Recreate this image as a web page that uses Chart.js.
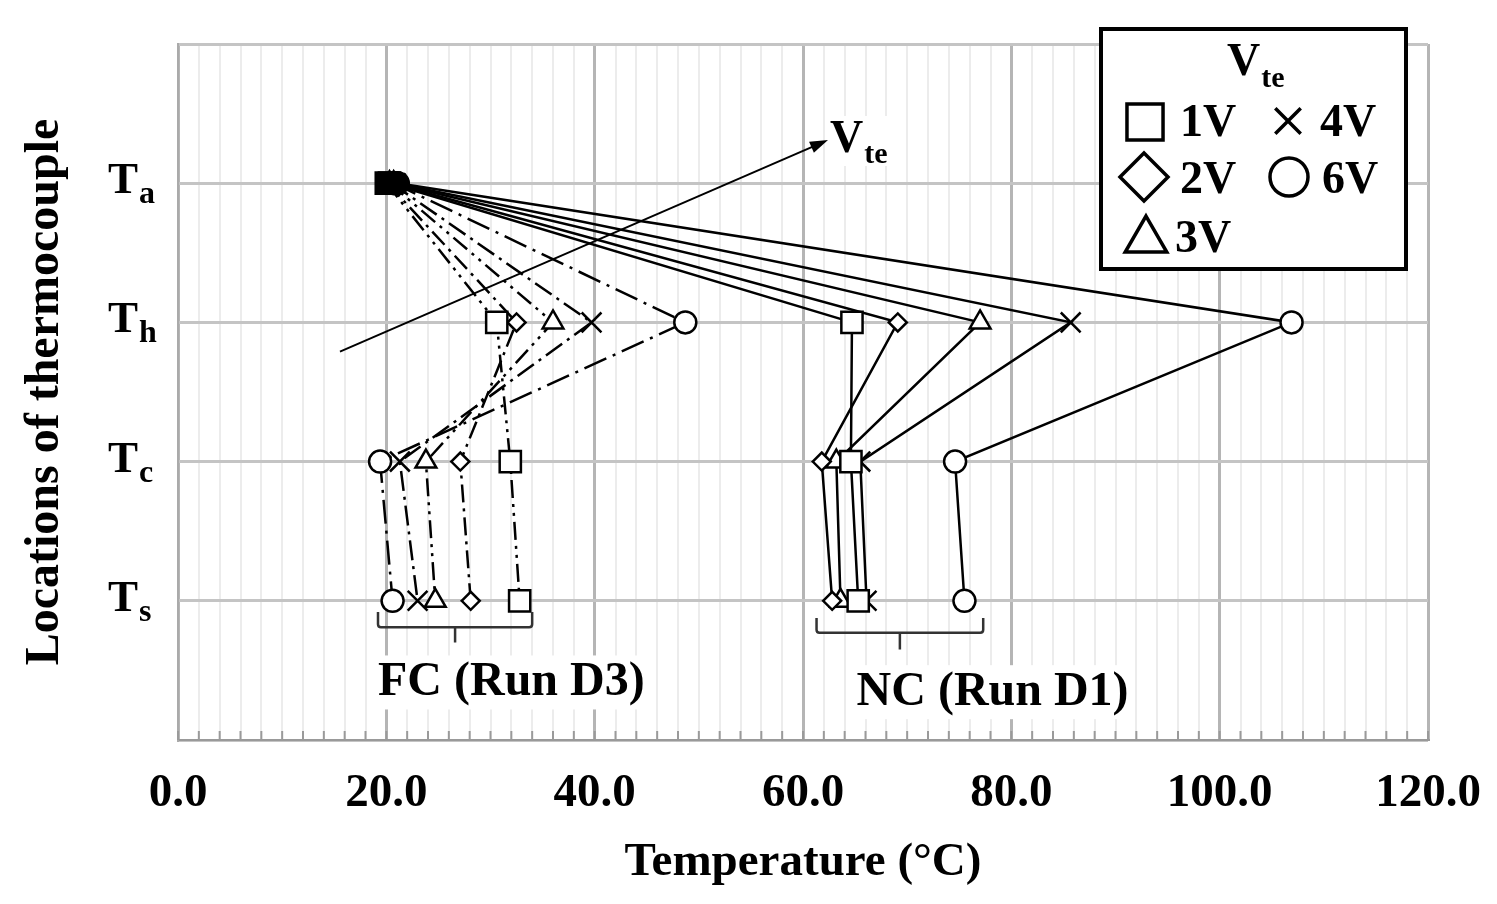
<!DOCTYPE html>
<html>
<head>
<meta charset="utf-8">
<script src="https://cdn.jsdelivr.net/npm/chart.js@4/dist/chart.umd.min.js"></script>
<style>
  html, body { margin: 0; padding: 0; background: #fff; }
  #wrap { width: 1497px; height: 904px; }
</style>
</head>
<body>
<div id="wrap"><canvas id="chart" width="1497" height="904"></canvas></div>
<script>
// thermocouple locations, top to bottom: T_a, T_h, T_c, T_s
const locations = ['a', 'h', 'c', 's'];
const locationLevels = [4, 3, 2, 1];

const voltages = ['1V', '2V', '3V', '4V', '6V'];
const markers = ['rect', 'rectRot', 'triangle', 'crossRot', 'circle'];

// FC (Run D3), temperature in °C at Ta, Th, Tc, Ts
const fc1V = [20.0, 30.6, 31.9, 32.8];
const fc2V = [20.1, 32.5, 27.1, 28.1];
const fc3V = [20.3, 36.0, 23.8, 24.7];
const fc4V = [20.5, 39.7, 21.3, 23.0];
const fc6V = [20.7, 48.7, 19.4, 20.6];

// NC (Run D1)
const nc1V = [20.3, 64.7, 64.6, 65.3];
const nc2V = [20.5, 69.1, 61.8, 62.8];
const nc3V = [20.7, 77.0, 63.2, 63.6];
const nc4V = [20.9, 85.7, 65.5, 66.1];
const nc6V = [21.1, 106.9, 74.6, 75.5];

// annotations, in data units (temperature, level)
const arrowFrom = [15.55, 2.79];
const arrowTo = [62.4, 4.31];
const fcBracket = [19.2, 34.0];
const ncBracket = [61.3, 77.3];

const SERIF = '"Liberation Serif", "Times New Roman", serif';
const markerSize = { rect: 15, rectRot: 9, triangle: 12, crossRot: 14, circle: 11 };
const dashes = [[18, 6, 3, 6, 3, 6], [18, 6, 3, 6], [18, 6, 3, 6, 3, 6], [20, 6, 3, 6], [24, 7, 3, 7]];

function makeSeries(values, vi, run) {
  const style = markers[vi];
  return {
    label: run + ' ' + voltages[vi],
    data: values.map((t, i) => ({ x: t, y: locationLevels[i] })),
    showLine: true,
    borderColor: '#000',
    borderWidth: 2.5,
    borderDash: run === 'FC' ? dashes[vi] : [],
    pointStyle: style,
    pointRadius: markerSize[style],
    pointBorderWidth: 2.5,
    pointBorderColor: '#000',
    // at Ta the markers pile up into a dark blob
    pointBackgroundColor: values.map((t, i) => i === 0 ? '#000' : '#fff'),
  };
}

const datasets = [
  makeSeries(fc1V, 0, 'FC'), makeSeries(fc2V, 1, 'FC'), makeSeries(fc3V, 2, 'FC'),
  makeSeries(fc4V, 3, 'FC'), makeSeries(fc6V, 4, 'FC'),
  makeSeries(nc1V, 0, 'NC'), makeSeries(nc2V, 1, 'NC'), makeSeries(nc3V, 2, 'NC'),
  makeSeries(nc4V, 3, 'NC'), makeSeries(nc6V, 4, 'NC'),
];

function subText(ctx, main, sub, x, y, big, small, drop) {
  ctx.font = 'bold ' + big + 'px ' + SERIF;
  ctx.textAlign = 'left';
  ctx.textBaseline = 'alphabetic';
  ctx.fillText(main, x, y);
  const w = ctx.measureText(main).width;
  ctx.font = 'bold ' + small + 'px ' + SERIF;
  ctx.fillText(sub, x + w + 1, y + drop);
}

const decorations = {
  id: 'decorations',
  afterDatasetsDraw(chart) {
    const ctx = chart.ctx;
    const sx = chart.scales.x, sy = chart.scales.y;
    const X = v => sx.getPixelForValue(v), Y = v => sy.getPixelForValue(v);
    ctx.save();
    ctx.fillStyle = '#000';
    ctx.strokeStyle = '#000';

    // inner tick marks along the bottom axis
    ctx.strokeStyle = '#9a9a9a';
    ctx.lineWidth = 2;
    sx.ticks.forEach(t => {
      const px = X(t.value);
      ctx.beginPath();
      ctx.moveTo(px, sy.bottom);
      ctx.lineTo(px, sy.bottom - 9);
      ctx.stroke();
    });

    // arrow
    const ax0 = X(arrowFrom[0]), ay0 = Y(arrowFrom[1]);
    const ax1 = X(arrowTo[0]), ay1 = Y(arrowTo[1]);
    const ang = Math.atan2(ay1 - ay0, ax1 - ax0);
    ctx.strokeStyle = '#000';
    ctx.lineWidth = 2;
    ctx.beginPath();
    ctx.moveTo(ax0, ay0);
    ctx.lineTo(ax1 - 14 * Math.cos(ang), ay1 - 14 * Math.sin(ang));
    ctx.stroke();
    ctx.beginPath();
    ctx.moveTo(ax1, ay1);
    ctx.lineTo(ax1 - 18 * Math.cos(ang) + 6 * Math.sin(ang), ay1 - 18 * Math.sin(ang) - 6 * Math.cos(ang));
    ctx.lineTo(ax1 - 18 * Math.cos(ang) - 6 * Math.sin(ang), ay1 - 18 * Math.sin(ang) + 6 * Math.cos(ang));
    ctx.closePath();
    ctx.fill();

    // V_te label at the arrow tip
    ctx.fillStyle = '#fff';
    ctx.fillRect(ax1 + 3, ay1 - 24, 64, 50);
    ctx.fillStyle = '#000';
    subText(ctx, 'V', 'te', ax1 + 2, ay1 + 12, 46, 30, 11);

    // brackets under Ts
    ctx.strokeStyle = '#333';
    ctx.lineWidth = 2.5;
    [[fcBracket, 0.92, 0.81, 0.70], [ncBracket, 0.876, 0.77, 0.65]].forEach(([b, top, bot, stem]) => {
      const l = X(b[0]), r = X(b[1]), c = (l + r) / 2;
      ctx.beginPath();
      ctx.moveTo(l, Y(top));
      ctx.lineTo(l, Y(bot) - 3);
      ctx.quadraticCurveTo(l, Y(bot), l + 3, Y(bot));
      ctx.lineTo(r - 3, Y(bot));
      ctx.quadraticCurveTo(r, Y(bot), r, Y(bot) - 3);
      ctx.lineTo(r, Y(top));
      ctx.moveTo(c, Y(bot));
      ctx.lineTo(c, Y(stem));
      ctx.stroke();
    });

    // run labels with white backing
    ctx.font = 'bold 48px ' + SERIF;
    ctx.textAlign = 'center';
    ctx.textBaseline = 'alphabetic';
    [['FC (Run D3)', 32.0, 0.32], ['NC (Run D1)', 78.2, 0.25]].forEach(([txt, x, y]) => {
      const w = ctx.measureText(txt).width;
      ctx.fillStyle = '#fff';
      ctx.fillRect(X(x) - w / 2 - 4, Y(y) - 40, w + 8, 54);
      ctx.fillStyle = '#000';
      ctx.fillText(txt, X(x), Y(y));
    });

    // y labels T_a, T_h, T_c, T_s
    locations.forEach((s, i) => {
      const py = Y(locationLevels[i]);
      subText(ctx, 'T', s, 108, py + 10, 45, 32, 10);
    });

    // legend box
    ctx.fillStyle = '#fff';
    ctx.fillRect(1101, 29, 305, 240);
    ctx.strokeStyle = '#000';
    ctx.lineWidth = 4;
    ctx.strokeRect(1101, 29, 305, 240);
    ctx.fillStyle = '#000';
    subText(ctx, 'V', 'te', 1227, 75, 46, 30, 12);
    const legendSize = { rect: 25.5, rectRot: 24, triangle: 24, crossRot: 18, circle: 19 };
    const slots = [[1145, 122, 1180, 136], [1144, 177, 1180, 193], [1146, 240, 1175, 252],
                   [1288, 121, 1320, 136], [1289, 177, 1322, 193]];
    voltages.forEach((v, i) => {
      const [mx, my, tx, ty] = slots[i];
      const st = markers[i];
      ctx.fillStyle = '#fff';
      ctx.strokeStyle = '#000';
      ctx.lineWidth = 3.5;
      Chart.helpers.drawPoint(ctx, { pointStyle: st, radius: legendSize[st], borderWidth: 3.5, rotation: 0 }, mx, my);
      ctx.fillStyle = '#000';
      ctx.font = 'bold 46px ' + SERIF;
      ctx.textAlign = 'left';
      ctx.fillText(v, tx, ty);
    });
    ctx.restore();
  }
};

new Chart(document.getElementById('chart'), {
  type: 'scatter',
  data: { datasets: datasets },
  plugins: [decorations],
  options: {
    responsive: false,
    animation: false,
    layout: { padding: { top: 44, right: 69, left: 0, bottom: 0 } },
    plugins: { legend: { display: false }, tooltip: { enabled: false } },
    scales: {
      x: {
        type: 'linear', min: 0, max: 120,
        afterFit: s => { s.height = 164; s.paddingLeft = 0; s.paddingRight = 0; },
        ticks: {
          stepSize: 2, autoSkip: false, maxRotation: 0, padding: 26, color: '#000',
          font: { family: SERIF, size: 47, weight: 'bold' },
          callback: v => v % 20 === 0 ? v.toFixed(1) : ''
        },
        grid: {
          drawTicks: false,
          color: c => c.tick && c.tick.value % 20 === 0 ? '#b5b5b5' : '#ececec',
          lineWidth: c => c.tick && c.tick.value % 20 === 0 ? 3 : 2
        },
        border: { color: '#999', width: 2 },
        title: {
          display: true, text: 'Temperature (°C)', color: '#000',
          font: { family: SERIF, size: 47, weight: 'bold' },
          padding: { top: 0, bottom: 13 }
        }
      },
      y: {
        type: 'linear', min: 0, max: 5,
        afterFit: s => { s.width = 178; },
        ticks: { stepSize: 1, callback: () => '' },
        grid: { drawTicks: false, color: '#c4c4c4', lineWidth: 3 },
        border: { color: '#aaa', width: 2 },
        title: {
          display: true, text: 'Locations of thermocouple', color: '#000',
          font: { family: SERIF, size: 48, weight: 'bold' },
          padding: { top: 17, bottom: 0 }
        }
      }
    }
  }
});
</script>
</body>
</html>
